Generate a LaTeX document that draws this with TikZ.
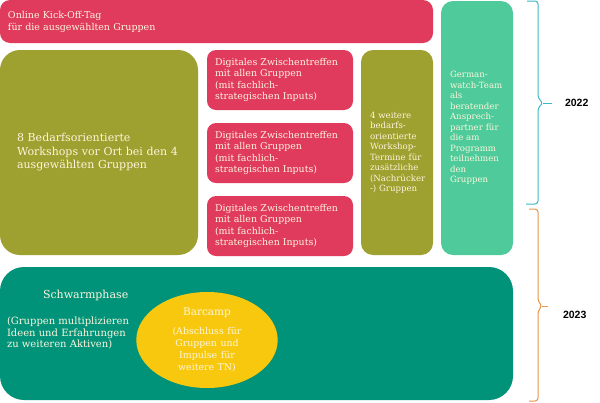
\documentclass[tikz,border=0pt]{standalone}
\usepackage{fontspec}
\setmainfont{DejaVu Serif}
\newfontfamily\yearsans{Liberation Sans}
\usetikzlibrary{positioning,shapes.geometric}
\definecolor{kickred}{HTML}{E03A5C}
\definecolor{workolive}{HTML}{9EA02F}
\definecolor{teamgreen}{HTML}{4FCB9B}
\definecolor{swarmteal}{HTML}{00937A}
\definecolor{campyellow}{HTML}{F8C80F}
\definecolor{boxtext}{HTML}{FDF6DC}
\definecolor{brace22}{HTML}{3BB8C8}
\definecolor{brace23}{HTML}{E8944A}
\begin{document}
\begin{tikzpicture}[x=1pt,y=-1pt,
every node/.style={anchor=north west,inner sep=0pt,outer sep=0pt,align=left,text=boxtext},
meeting/.style={fill=kickred,rounded corners=9pt,minimum width=146pt,minimum height=60pt,text width=130pt,font=\fontsize{9.4}{11.2}\selectfont},
column/.style={rounded corners=12pt,minimum width=72pt,text width=54pt,font=\fontsize{8.6}{10.5}\selectfont},
yearbrace/.style={line width=1pt,rounded corners=3pt},
year/.style={anchor=west,text=black,font=\yearsans\bfseries\fontsize{10.5}{12}\selectfont}]
\useasboundingbox (0,0) rectangle (600,402);
\node[fill=kickred,rounded corners=10pt,minimum width=433pt,minimum height=43pt,text width=417pt,font=\fontsize{9.5}{12}\selectfont] (kick) at (0,0) {Online Kick-Off-Tag\\für die ausgewählten Gruppen};
\node[fill=workolive,rounded corners=20pt,minimum width=198pt,minimum height=205pt,text width=164pt,font=\fontsize{11}{13.5}\selectfont] (work) at (0,50) {8 Bedarfsorientierte\\Workshops vor Ort bei den 4\\ausgewählten Gruppen};
\node[meeting] (meet1) at (207,50) {Digitales Zwischentreffen\\mit allen Gruppen\\(mit fachlich-\\strategischen Inputs)};
\node[meeting] (meet2) at (207,123) {Digitales Zwischentreffen\\mit allen Gruppen\\(mit fachlich-\\strategischen Inputs)};
\node[meeting] (meet3) at (207,196) {Digitales Zwischentreffen\\mit allen Gruppen\\(mit fachlich-\\strategischen Inputs)};
\node[column,fill=workolive,minimum height=205pt] (extra) at (361,50) {4 weitere\\bedarfs-\\orientierte\\Workshop-\\Termine für\\zusätzliche\\(Nachrücker\\-) Gruppen};
\node[column,fill=teamgreen,minimum height=254pt] (team) at (441,1) {German-\\watch-Team\\als\\beratender\\Ansprech-\\partner für\\die am\\Programm\\teilnehmen\\den\\Gruppen};
\node[fill=swarmteal,rounded corners=24pt,minimum width=513pt,minimum height=133pt] (swarm) at (0,267) {};
\node[anchor=west,font=\fontsize{11}{13}\selectfont] (swarmtitle) at (43,295) {Schwarmphase};
\node[anchor=west,font=\fontsize{10}{11.5}\selectfont] (swarmtext) at (7,333) {(Gruppen multiplizieren\\Ideen und Erfahrungen\\zu weiteren Aktiven)};
\node[ellipse,fill=campyellow,anchor=center,minimum width=127pt,minimum height=96pt,text width=100pt,align=center,font=\fontsize{10.5}{12}\selectfont] (camp) at (207,340) {Barcamp\\[7pt]\fontsize{9.4}{12}\selectfont(Abschluss für\\Gruppen und\\Impulse für\\weitere TN)};
\coordinate (top22) at (527,1);
\coordinate (tip22) at (552,103);
\coordinate (bot22) at (526,204);
\coordinate (top23) at (529,209);
\coordinate (tip23) at (548,306);
\coordinate (bot23) at (529,401);
\draw[yearbrace,brace22] (top22) -- (538,1) -- (538,98) -- (543,103) -- (538,108) -- (538,204) -- (bot22);
\draw[yearbrace,brace22] (543,103) -- (tip22);
\draw[yearbrace,brace23] (top23) -- (538,209) -- (538,301) -- (542,306) -- (538,311) -- (538,401) -- (bot23);
\draw[yearbrace,brace23] (542,306) -- (tip23);
\node[year] (y22) at (565,103) {2022};
\node[year] (y23) at (563,315) {2023};
\end{tikzpicture}
\end{document}
